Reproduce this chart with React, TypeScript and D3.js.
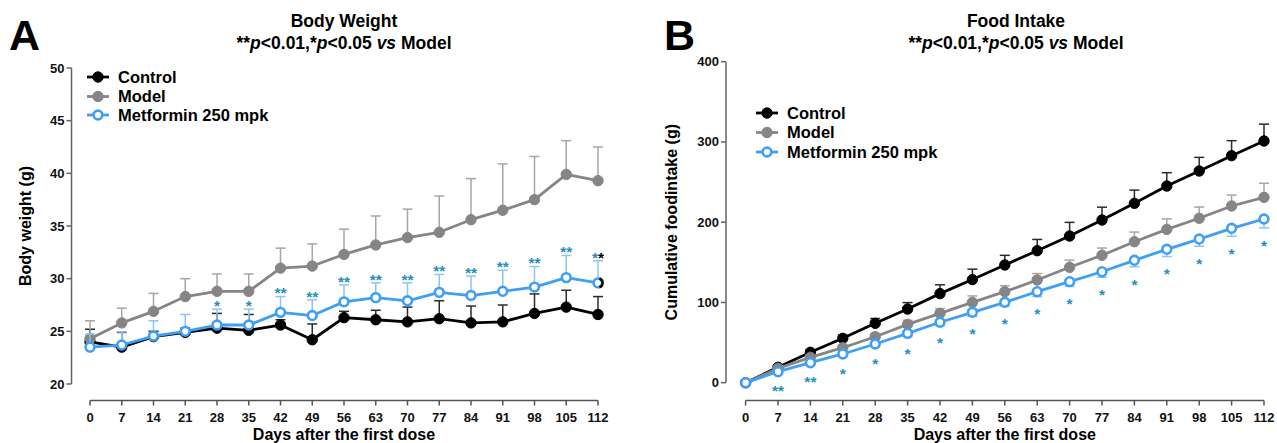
import React from "react";
import * as d3 from "d3";

// ---------- shared ----------
const days = [0, 7, 14, 21, 28, 35, 42, 49, 56, 63, 70, 77, 84, 91, 98, 105, 112];
const seriesNames = ["Control", "Model", "Metformin 250 mpk"];

// ---------- Panel A: Body Weight ----------
const bwTitle = "Body Weight";
const bwYLabel = "Body weight (g)";
const bwYTicks = [20, 25, 30, 35, 40, 45, 50];
const bwControl = [24.0, 23.5, 24.5, 24.9, 25.3, 25.1, 25.6, 24.2, 26.3, 26.1, 25.9, 26.2, 25.8, 25.9, 26.7, 27.3, 26.6];
const bwControlErr = [1.2, 1.4, 0.5, 0.4, 1.4, 1.5, 0.5, 1.5, 0.6, 0.9, 1.4, 1.7, 1.6, 1.6, 1.85, 1.6, 1.7];
const bwModel = [24.3, 25.8, 26.9, 28.3, 28.8, 28.8, 31.0, 31.2, 32.3, 33.2, 33.9, 34.4, 35.6, 36.5, 37.5, 39.9, 39.3];
const bwModelErr = [1.7, 1.4, 1.7, 1.7, 1.65, 1.65, 1.9, 2.1, 2.4, 2.75, 2.7, 3.45, 3.9, 4.4, 4.1, 3.2, 3.2];
const bwMet = [23.5, 23.7, 24.55, 25.0, 25.6, 25.6, 26.8, 26.5, 27.8, 28.2, 27.9, 28.7, 28.4, 28.8, 29.2, 30.1, 29.6];
const bwMetErr = [1.25, 1.25, 1.45, 1.6, 1.5, 1.5, 1.5, 1.5, 1.6, 1.4, 1.7, 1.7, 1.85, 2.0, 1.95, 2.1, 2.1];
const bwStars = ["", "", "", "", "*", "*", "**", "**", "**", "**", "**", "**", "**", "**", "**", "**", "**"];

// ---------- Panel B: Food Intake ----------
const fiTitle = "Food Intake";
const fiYLabel = "Cumulative foodintake (g)";
const fiYTicks = [0, 100, 200, 300, 400];
const fiControl = [0, 19.2, 37.9, 55.3, 74, 91.8, 111, 128.5, 146.7, 164.5, 182.8, 202.7, 223.5, 245.1, 263.8, 282.9, 301.2];
const fiControlErr = [0, 3, 3, 4, 6, 8, 11, 13, 12, 14, 17, 16, 16.5, 16.6, 17, 18.7, 21];
const fiModel = [0, 17.9, 31.6, 43.6, 57.3, 72.7, 86.4, 100.1, 113.4, 128, 143.8, 158.8, 175.7, 191.1, 204.9, 220.2, 231];
const fiModelErr = [0, 2, 3, 3, 4, 5, 6, 8, 7.5, 8, 9, 9, 12, 13, 14, 13.6, 17.5];
const fiMet = [0, 13.7, 24.9, 35.8, 48.2, 61.5, 75.3, 87.7, 100.2, 113.4, 125.9, 138.3, 152.5, 166.2, 179, 192.4, 204];
const fiMetErr = [0, 2, 2, 3, 3, 4, 4, 5, 5, 6, 6, 7, 8, 9, 9, 10, 11];
const fiStars = ["", "**", "**", "*", "*", "*", "*", "*", "*", "*", "*", "*", "*", "*", "*", "*", "*"];

const xLabel = "Days after the first dose";

const FONT = "'Liberation Sans', Arial, Helvetica, sans-serif";

type Style = { stroke: string; fill: string; err: string };
const styles: Style[] = [
  { stroke: "#000000", fill: "#000000", err: "#2a2a2a" },
  { stroke: "#858585", fill: "#858585", err: "#a6a6a6" },
  { stroke: "#3f9ff5", fill: "#ffffff", err: "#8cc4f5" },
];
const STAR_COLOR = "#1e8fc0";

type PanelProps = {
  letter: string;
  letterX: number;
  title: string;
  titleX: number;
  yLabel: string;
  yLabelX: number;
  xRange: [number, number];
  yRange: [number, number];
  yDomain: [number, number];
  yTicks: number[];
  yAxisX: number;
  xAxisY: number;
  means: number[][];
  errs: number[][];
  errDown: boolean[];
  stars: string[];
  starsBelow: boolean;
  legendX: number;
  legendY: number[];
  lastStarBlack?: boolean;
};

function Panel(p: PanelProps) {
  const x = d3.scaleLinear().domain([0, 112]).range(p.xRange);
  const y = d3.scaleLinear().domain(p.yDomain).range(p.yRange);
  const line = d3
    .line<number>()
    .x((_, i) => x(days[i]))
    .y((d) => y(d));
  const xMid = (p.xRange[0] + p.xRange[1]) / 2;
  const yMid = (p.yRange[0] + p.yRange[1]) / 2;
  const r = 5.2;
  const capW = 5;
  const starFs = 15.5;
  const metIdx = 2;
  const last = days.length - 1;
  const halfArc = d3.arc()({
    innerRadius: r - 2.1,
    outerRadius: r + 0.6,
    startAngle: Math.PI * 0.1,
    endAngle: Math.PI * 0.9,
  }) as string;

  return (
    <g fontFamily={FONT}>
      {/* panel letter */}
      <text x={p.letterX} y={50} fontSize={43} fontWeight="bold" fill="#000">
        {p.letter}
      </text>
      {/* titles */}
      <text x={p.titleX} y={27} fontSize={17.5} fontWeight="bold" textAnchor="middle" fill="#000">
        {p.title}
      </text>
      <text x={p.titleX} y={49} fontSize={17.5} fontWeight="bold" textAnchor="middle" fill="#000">
        **<tspan fontStyle="italic">p</tspan>&lt;0.01,*<tspan fontStyle="italic">p</tspan>&lt;0.05{" "}
        <tspan fontStyle="italic">vs</tspan> Model
      </text>

      {/* y axis */}
      <line x1={p.yAxisX} x2={p.yAxisX} y1={p.yRange[1]} y2={p.yRange[0]} stroke="#666" strokeWidth={1.5} />
      {p.yTicks.map((t) => (
        <g key={"yt" + t}>
          <line x1={p.yAxisX - 5} x2={p.yAxisX} y1={y(t)} y2={y(t)} stroke="#666" strokeWidth={1.5} />
          <text x={p.yAxisX - 7} y={y(t) + 4.5} fontSize={13} fontWeight="bold" textAnchor="end" fill="#111">
            {t}
          </text>
        </g>
      ))}
      <text
        transform={`translate(${p.yLabelX},${yMid}) rotate(-90)`}
        fontSize={16}
        fontWeight="bold"
        textAnchor="middle"
        fill="#000"
      >
        {p.yLabel}
      </text>

      {/* x axis */}
      <line x1={p.xRange[0]} x2={p.xRange[1]} y1={p.xAxisY} y2={p.xAxisY} stroke="#555" strokeWidth={1.5} />
      {days.map((d) => (
        <g key={"xt" + d}>
          <line x1={x(d)} x2={x(d)} y1={p.xAxisY} y2={p.xAxisY + 5} stroke="#555" strokeWidth={1.5} />
          <text x={x(d)} y={p.xAxisY + 21} fontSize={13} fontWeight="bold" textAnchor="middle" fill="#111">
            {d}
          </text>
        </g>
      ))}
      <text x={xMid} y={p.xAxisY + 39.5} fontSize={16} fontWeight="bold" textAnchor="middle" fill="#000">
        {xLabel}
      </text>

      {/* series */}
      {p.means.map((m, si) => {
        const st = styles[si];
        return (
          <g key={"s" + si}>
            {m.map((v, i) => {
              const e = p.errs[si][i];
              if (!e) return null;
              const yEnd = p.errDown[si] ? y(v - e) : y(v + e);
              return (
                <g key={"e" + i}>
                  <line x1={x(days[i])} x2={x(days[i])} y1={y(v)} y2={yEnd} stroke={st.err} strokeWidth={1.5} />
                  <line
                    x1={x(days[i]) - capW}
                    x2={x(days[i]) + capW}
                    y1={yEnd}
                    y2={yEnd}
                    stroke={st.err}
                    strokeWidth={1.5}
                  />
                </g>
              );
            })}
            <path d={line(m) || ""} fill="none" stroke={st.stroke} strokeWidth={2.8} strokeLinejoin="round" />
            {m.map((v, i) => (
              <circle
                key={"c" + i}
                cx={x(days[i])}
                cy={y(v)}
                r={si === 2 ? r - 0.8 : r}
                fill={st.fill}
                stroke={st.stroke}
                strokeWidth={si === 2 ? 2.6 : 1}
              />
            ))}
          </g>
        );
      })}

      {/* dark right half on the last metformin marker (as in the reference) */}
      {p.lastStarBlack && (
        <path
          d={halfArc}
          transform={`translate(${x(days[last])},${y(p.means[metIdx][last])})`}
          fill="#111"
        />
      )}

      {/* significance stars */}
      {p.stars.map((s, i) => {
        if (!s) return null;
        const v = p.means[metIdx][i];
        const e = p.errs[metIdx][i];
        const cx = x(days[i]);
        const baseY = p.starsBelow ? y(v - e) + 14 + starFs * 0.57 : y(v + e) - 7 + starFs * 0.57;
        const isLast = p.lastStarBlack && i === p.stars.length - 1;
        return (
          <text key={"st" + i} x={cx} y={baseY} fontSize={starFs} fontWeight="bold" textAnchor="middle" fill={STAR_COLOR}>
            {isLast ? (
              <>
                {s.slice(0, 1)}
                <tspan fill="#000">{s.slice(1)}</tspan>
              </>
            ) : (
              s
            )}
          </text>
        );
      })}

      {/* legend */}
      {seriesNames.map((n, si) => {
        const st = styles[si];
        const ly = p.legendY[si];
        return (
          <g key={"lg" + si}>
            <line x1={p.legendX - 11} x2={p.legendX + 11} y1={ly} y2={ly} stroke={st.stroke} strokeWidth={2.8} />
            <circle
              cx={p.legendX}
              cy={ly}
              r={si === 2 ? r - 0.8 : r}
              fill={st.fill}
              stroke={st.stroke}
              strokeWidth={si === 2 ? 2.6 : 1}
            />
            <text x={p.legendX + 20} y={ly + 5.8} fontSize={16.5} fontWeight="bold" fill="#000">
              {n}
            </text>
          </g>
        );
      })}
    </g>
  );
}

export default function App() {
  return (
    <svg
      width={1277}
      height={443}
      viewBox="0 0 1277 443"
      style={{ display: "block", position: "absolute", left: 0, top: 0 }}
    >
      <rect x={0} y={0} width={1277} height={443} fill="#fff" />
      <Panel
        letter="A"
        letterX={9}
        title={bwTitle}
        titleX={344}
        yLabel={bwYLabel}
        yLabelX={31}
        xRange={[90, 598]}
        yRange={[384, 68]}
        yDomain={[20, 50]}
        yTicks={bwYTicks}
        yAxisX={71.5}
        xAxisY={400.5}
        means={[bwControl, bwModel, bwMet]}
        errs={[bwControlErr, bwModelErr, bwMetErr]}
        errDown={[false, false, false]}
        stars={bwStars}
        starsBelow={false}
        legendX={98}
        legendY={[77, 96.5, 115]}
        lastStarBlack={true}
      />
      <Panel
        letter="B"
        letterX={664}
        title={fiTitle}
        titleX={1016}
        yLabel={fiYLabel}
        yLabelX={677}
        xRange={[745.6, 1264]}
        yRange={[382.7, 61.7]}
        yDomain={[0, 400]}
        yTicks={fiYTicks}
        yAxisX={726}
        xAxisY={400.5}
        means={[fiControl, fiModel, fiMet]}
        errs={[fiControlErr, fiModelErr, fiMetErr]}
        errDown={[false, false, true]}
        stars={fiStars}
        starsBelow={true}
        legendX={767}
        legendY={[113, 132.5, 152]}
      />
    </svg>
  );
}
